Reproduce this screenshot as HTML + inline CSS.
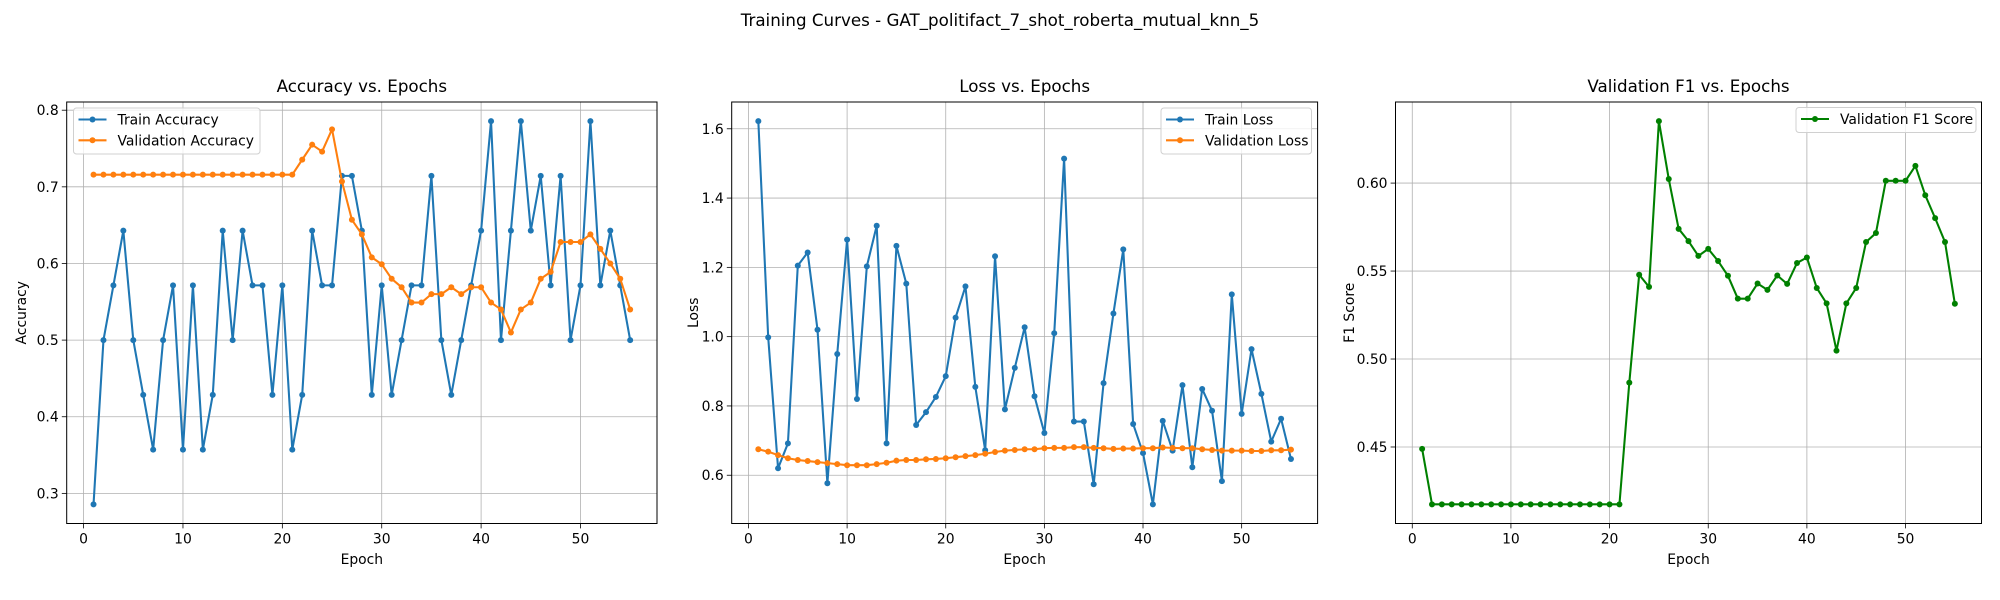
<!DOCTYPE html>
<html><head><meta charset="utf-8">
<style>
html,body{margin:0;padding:0;background:#fff;}
svg{display:block;font-family:"DejaVu Sans","Liberation Sans",sans-serif;}
</style></head>
<body>
<svg id="fig" width="2000" height="600" viewBox="0 0 2000 600" xmlns="http://www.w3.org/2000/svg">
<rect width="2000" height="600" fill="#fff"/>
<text x="1000" y="26" text-anchor="middle" font-size="16.7" fill="#000">Training Curves - GAT_politifact_7_shot_roberta_mutual_knn_5</text>
</svg>
<script>
const epochs = Array.from({length:55},(_,i)=>i+1);
const trainAcc = [0.2857,0.5,0.5714,0.6429,0.5,0.4286,0.3571,0.5,0.5714,0.3571,0.5714,0.3571,0.4286,0.6429,0.5,0.6429,0.5714,0.5714,0.4286,0.5714,0.3571,0.4286,0.6429,0.5714,0.5714,0.7143,0.7143,0.6429,0.4286,0.5714,0.4286,0.5,0.5714,0.5714,0.7143,0.5,0.4286,0.5,0.5714,0.6429,0.7857,0.5,0.6429,0.7857,0.6429,0.7143,0.5714,0.7143,0.5,0.5714,0.7857,0.5714,0.6429,0.5714,0.5];
const valAcc = [0.7159,0.7159,0.7159,0.7159,0.7159,0.7159,0.7159,0.7159,0.7159,0.7159,0.7159,0.7159,0.7159,0.7159,0.7159,0.7159,0.7159,0.7159,0.7159,0.7159,0.7159,0.7355,0.755,0.746,0.775,0.707,0.657,0.638,0.608,0.599,0.58,0.569,0.549,0.549,0.56,0.56,0.569,0.56,0.569,0.569,0.549,0.54,0.51,0.54,0.549,0.58,0.589,0.628,0.628,0.628,0.638,0.619,0.6,0.58,0.54];
const trainLoss = [1.622,0.998,0.62,0.692,1.205,1.243,1.02,0.577,0.95,1.28,0.82,1.203,1.32,0.692,1.262,1.153,0.745,0.782,0.826,0.886,1.055,1.145,0.855,0.672,1.232,0.79,0.91,1.027,0.828,0.722,1.01,1.514,0.755,0.755,0.574,0.866,1.067,1.252,0.748,0.664,0.516,0.757,0.671,0.86,0.623,0.849,0.786,0.583,1.122,0.777,0.964,0.835,0.697,0.763,0.647];
const valLoss = [0.675,0.668,0.658,0.649,0.644,0.641,0.638,0.635,0.632,0.629,0.629,0.629,0.632,0.636,0.642,0.644,0.644,0.646,0.647,0.649,0.652,0.655,0.658,0.662,0.667,0.671,0.673,0.675,0.675,0.678,0.679,0.679,0.681,0.681,0.679,0.678,0.676,0.677,0.677,0.678,0.678,0.68,0.679,0.678,0.678,0.675,0.673,0.671,0.671,0.671,0.67,0.67,0.672,0.672,0.674];
const valF1 = [0.4489,0.4174,0.4174,0.4174,0.4174,0.4174,0.4174,0.4174,0.4174,0.4174,0.4174,0.4174,0.4174,0.4174,0.4174,0.4174,0.4174,0.4174,0.4174,0.4174,0.4174,0.4866,0.5479,0.541,0.6352,0.6023,0.574,0.567,0.5586,0.5626,0.5557,0.5473,0.5343,0.5343,0.5429,0.5393,0.5475,0.5427,0.5546,0.5577,0.5404,0.5316,0.5048,0.5316,0.5404,0.5665,0.5716,0.6013,0.6013,0.6013,0.6098,0.5931,0.5801,0.5665,0.5314];
const xTicks = [0,10,20,30,40,50];
const accTicks = [0.3,0.4,0.5,0.6,0.7,0.8];
const accTickLabels = ["0.3","0.4","0.5","0.6","0.7","0.8"];
const lossTicks = [0.6,0.8,1.0,1.2,1.4,1.6];
const lossTickLabels = ["0.6","0.8","1.0","1.2","1.4","1.6"];
const f1Ticks = [0.45,0.5,0.55,0.6];
const f1TickLabels = ["0.45","0.50","0.55","0.60"];

const NS="http://www.w3.org/2000/svg";
const svg=document.getElementById('fig');
function mk(tag,attrs,parent){const e=document.createElementNS(NS,tag);for(const k in attrs)e.setAttribute(k,attrs[k]);(parent||svg).appendChild(e);return e;}

function panel(opt){
  const L=opt.left,R=opt.right,T=102,B=523.5;
  const g=mk('g',{});
  
  
  let all=[];opt.series.forEach(s=>all=all.concat(s.values));
  const mn=Math.min(...all),mx=Math.max(...all),pad=(mx-mn)*0.05;
  const y0=mn-pad,y1=mx+pad;
  const xmin=1-54*0.05,xmax=55+54*0.05;
  const sx=v=>L+(v-xmin)/(xmax-xmin)*(R-L);
  const sy=v=>B-(v-y0)/(y1-y0)*(B-T);
  xTicks.forEach(t=>{
    const x=sx(t);
    const gl=mk('line',{x1:x,x2:x,y1:T,y2:B,stroke:'#b0b0b0','stroke-width':0.8},g);
    
    
    mk('line',{x1:x,x2:x,y1:B,y2:B+4.9,stroke:'#000','stroke-width':0.8},g);
    const tx=mk('text',{x:x,y:B+20,'text-anchor':'middle','font-size':13.9,fill:'#000'},g);
    tx.textContent=t;
    
    
  });
  opt.ticks.forEach((t,i)=>{
    const y=sy(t);
    const gl=mk('line',{x1:L,x2:R,y1:y,y2:y,stroke:'#b0b0b0','stroke-width':0.8},g);
    
    
    mk('line',{x1:L-4.9,x2:L,y1:y,y2:y,stroke:'#000','stroke-width':0.8},g);
    const tx=mk('text',{x:L-8,y:y+5,'text-anchor':'end','font-size':13.9,fill:'#000'},g);
    tx.textContent=opt.tickLabels[i];
    
    
  });
  opt.series.forEach(s=>{
    const pts=epochs.map((e,i)=>sx(e).toFixed(2)+','+sy(s.values[i]).toFixed(2)).join(' ');
    const pl=mk('polyline',{points:pts,fill:'none',stroke:s.color,'stroke-width':2.08,'stroke-linejoin':'round'},g);
    
    
    epochs.forEach((e,i)=>{
      const c=mk('circle',{cx:sx(e),cy:sy(s.values[i]),r:3,fill:s.color},g);
      
      
    });
  });
  const fr=mk('rect',{x:L,y:T,width:R-L,height:B-T,fill:'none',stroke:'#000','stroke-width':1},g);
  
  
  const tt=mk('text',{x:(L+R)/2,y:92,'text-anchor':'middle','font-size':16.7,fill:'#000'},g);
  tt.textContent=opt.title;
  
  
  const xl=mk('text',{x:(L+R)/2,y:564,'text-anchor':'middle','font-size':13.9,fill:'#000'},g);
  xl.textContent='Epoch';
  
  
  const yl=mk('text',{x:0,y:0,'text-anchor':'middle','font-size':13.9,fill:'#000',transform:'translate('+opt.ylabelX+','+((T+B)/2)+') rotate(-90)'},g);
  yl.textContent=opt.ylabel;
  
  
  const lg=opt.legend;
  const lgg=mk('g',{},g);
  
  
  mk('rect',{x:lg.x,y:lg.y,width:lg.w,height:lg.h,rx:3,fill:'#fff','fill-opacity':0.8,stroke:'#d0d0d0','stroke-width':1},lgg);
  opt.series.forEach((s,i)=>{
    const cy=lg.y+11.5+i*20.8;
    const e=mk('g',{},lgg);
    
    
    mk('line',{x1:lg.x+5,x2:lg.x+33,y1:cy,y2:cy,stroke:s.color,'stroke-width':2.08},e);
    mk('circle',{cx:lg.x+19,cy:cy,r:3,fill:s.color},e);
    const t=mk('text',{x:lg.x+44,y:cy+5,'font-size':13.9,fill:'#000'},e);
    t.textContent=s.label;
  });
}

panel({name:'accuracy-chart',left:66.7,right:657,title:'Accuracy vs. Epochs',ylabel:'Accuracy',ylabelX:26,
  ticks:accTicks,tickLabels:accTickLabels,
  series:[{key:'train-accuracy',label:'Train Accuracy',values:trainAcc,color:'#1f77b4'},
          {key:'validation-accuracy',label:'Validation Accuracy',values:valAcc,color:'#ff7f0e'}],
  legend:{x:73.5,y:108,w:186.5,h:46}});
panel({name:'loss-chart',left:731.7,right:1317.6,title:'Loss vs. Epochs',ylabel:'Loss',ylabelX:698,
  ticks:lossTicks,tickLabels:lossTickLabels,
  series:[{key:'train-loss',label:'Train Loss',values:trainLoss,color:'#1f77b4'},
          {key:'validation-loss',label:'Validation Loss',values:valLoss,color:'#ff7f0e'}],
  legend:{x:1161,y:108,w:150.5,h:46}});
panel({name:'f1-chart',left:1395.5,right:1981.5,title:'Validation F1 vs. Epochs',ylabel:'F1 Score',ylabelX:1354,
  ticks:f1Ticks,tickLabels:f1TickLabels,
  series:[{key:'validation-f1',label:'Validation F1 Score',values:valF1,color:'#008000'}],
  legend:{x:1796,y:107.5,w:180,h:25}});
</script>
</body></html>
